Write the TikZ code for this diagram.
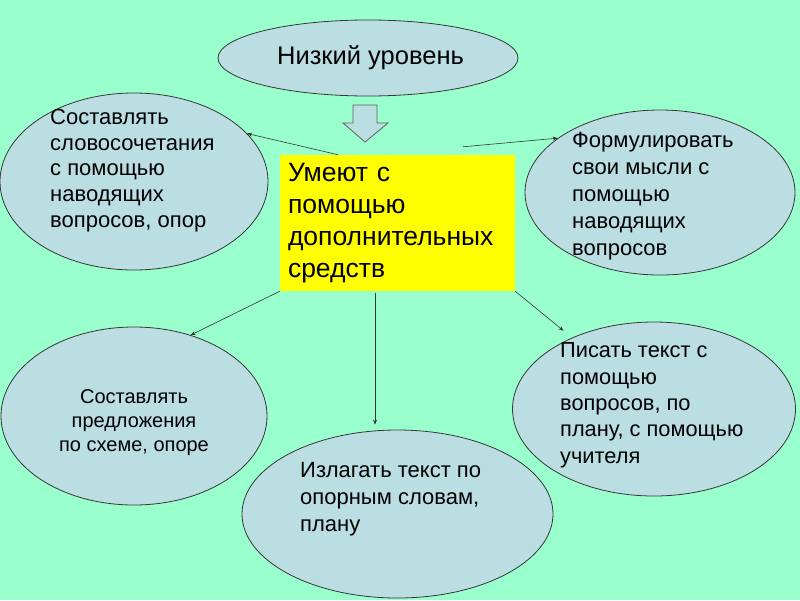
\documentclass[tikz,border=0pt]{standalone}
\usepackage{fontspec}
\setmainfont{Liberation Sans}
\usetikzlibrary{shapes.geometric,arrows.meta,calc}

\definecolor{mintbg}{RGB}{153,255,204}
\definecolor{ovalfill}{RGB}{187,222,226}
\definecolor{ovalline}{RGB}{55,55,55}
\definecolor{boxyellow}{RGB}{255,255,0}

\tikzset{
  oval/.style={ellipse, draw=ovalline, fill=ovalfill, line width=0.8pt, inner sep=0pt},
  ovaltext/.style={inner sep=0pt, anchor=north west, align=left},
  midbox/.style={rectangle, fill=boxyellow, minimum width=235pt, minimum height=136pt,
    text width=219pt, inner xsep=8pt, align=left, font=\fontsize{26.5}{32}\selectfont},
  link/.style={-{Stealth[length=5pt,width=4pt]}, draw=ovalline, line width=0.6pt},
  blockarrow/.style={draw=ovalline!80, fill=ovalfill, line width=0.8pt}
}

\begin{document}
\begin{tikzpicture}[x=1pt,y=-1pt]
% background
\fill[mintbg] (0,0) rectangle (800,600);
\useasboundingbox (0,0) rectangle (800,600);

% level and center
\node[oval, minimum width=300pt, minimum height=76pt, font=\fontsize{25.5}{30}\selectfont] (level) at (368,58) {\hspace{5pt}Низкий уровень};
\draw[blockarrow] (353,105) -- (377,105) -- (377,123) -- (388,123) -- (365,142) -- (343,123) -- (353,123) -- cycle;
\node[midbox] (mid) at (397.5,223) {Умеют с\\помощью\\дополнительных\\средств};

% ovals round the center
\node[oval, minimum width=268pt, minimum height=177pt] (slova) at (134,181.5) {};
\node[ovaltext, font=\fontsize{22}{25.7}\selectfont] (slovaText) at (50,109) {Составлять\\словосочетания\\с помощью\\наводящих\\вопросов, опор};

\node[oval, minimum width=270pt, minimum height=165pt] (mysli) at (660,192.5) {};
\node[ovaltext, font=\fontsize{22}{27}\selectfont] (mysliText) at (572,132.5) {Формулировать\\свои мысли с\\помощью\\наводящих\\вопросов};

\node[oval, minimum width=266pt, minimum height=178pt] (sxema) at (134,416) {};
\node[ovaltext, anchor=north, align=center, font=\fontsize{20}{24}\selectfont] (sxemaText) at (134,389) {Составлять\\предложения\\по схеме, опоре};

\node[oval, minimum width=311pt, minimum height=168pt] (plan) at (397.5,514) {};
\node[ovaltext, font=\fontsize{22}{27.2}\selectfont] (planText) at (300,462) {Излагать текст по\\опорным словам,\\плану};

\node[oval, minimum width=283pt, minimum height=174pt] (pisat) at (654,409) {};
\node[ovaltext, font=\fontsize{21.8}{26.4}\selectfont] (pisatText) at (560,342.5) {Писать текст с\\помощью\\вопросов, по\\плану, с помощью\\учителя};

% arrows
\draw[link] (mid.131.7) -- (slova.23);
\draw[link] ($(mid.north)+(65.5,-8)$) -- (mysli.152);
\draw[link] (mid.south west) -- (sxema.55);
\draw[link] ($(mid.south)+(-22.5,2)$) -- ($(plan.north)+(-22.5,-5)$);
\draw[link, shorten >=11pt] (mid.south east) -- (pisat.139);
\end{tikzpicture}
\end{document}
